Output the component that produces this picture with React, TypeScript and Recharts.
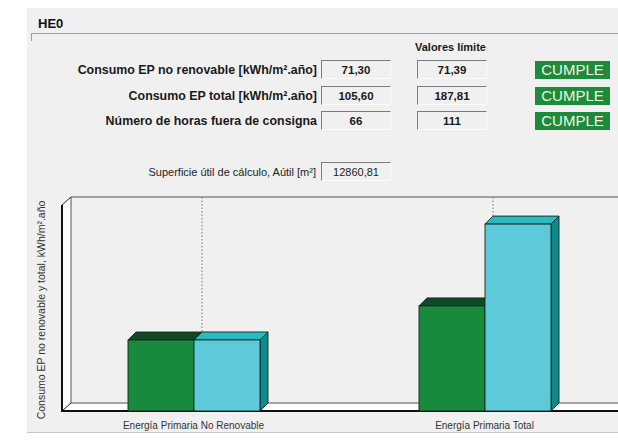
import React from "react";
import { Bar, BarChart, XAxis, YAxis } from "recharts";

// chart data
const categories = ["Energía Primaria No Renovable", "Energía Primaria Total"];
const consumo = [71.3, 105.6];
const limite = [71.39, 187.81];
const Y_MAX = 207;

// table above the chart
const rowLabels = [
  "Consumo EP no renovable [kWh/m².año]",
  "Consumo EP total [kWh/m².año]",
  "Número de horas fuera de consigna",
];
const rowValues = ["71,30", "105,60", "66"];
const rowLimits = ["71,39", "187,81", "111"];
const rowStatus = ["CUMPLE", "CUMPLE", "CUMPLE"];
const superficieLabel = "Superficie útil de cálculo, Aútil [m²]";
const superficieValue = "12860,81";
const yLabel = "Consumo EP no renovable y total, kWh/m².año";

const data = categories.map((name, i) => ({ name, consumo: consumo[i], limite: limite[i] }));

const FONT = '"Liberation Sans", Arial, sans-serif';
const BG = "#f0f0f0";
const DEPTH = 8;
const CHART_TOP = 180;
const PLOT_TOP = 205;
const PLOT_BOTTOM = 411;
const WALL_X = 62;

function Box3D(props: any) {
  const { x, y, width, height, front, top, side, grid, background } = props;
  if (width == null || height == null) return null;
  const d = DEPTH;
  const r = x + width;
  const b = y + height;
  const gTop = (background && background.y != null ? background.y : PLOT_TOP - CHART_TOP) - d;
  const gBot = b - d;
  const stroke = "#16261c";
  return (
    <g>
      {grid && (
        <line x1={r + d} x2={r + d} y1={gTop} y2={gBot} stroke="#777" strokeDasharray="1.5 2" strokeWidth={1} />
      )}
      <polygon points={`${x},${y} ${x + d},${y - d} ${r + d},${y - d} ${r},${y}`} fill={top} stroke={stroke} strokeWidth={0.9} />
      <polygon points={`${r},${y} ${r + d},${y - d} ${r + d},${b - d} ${r},${b}`} fill={side} stroke={stroke} strokeWidth={0.9} />
      <rect x={x} y={y} width={width} height={height} fill={front} stroke={stroke} strokeWidth={0.9} />
    </g>
  );
}

function Frame() {
  const backTop = PLOT_TOP - DEPTH;
  const backFloor = PLOT_BOTTOM - DEPTH;
  return (
    <svg width={618} height={440} style={{ position: "absolute", left: 0, top: 0 }}>
      <polygon points={`${WALL_X},${PLOT_TOP} ${WALL_X + 9},${backTop} ${WALL_X + 9},${backFloor} ${WALL_X},${PLOT_BOTTOM}`} fill="#fff" />
      <polygon points={`${WALL_X},${PLOT_BOTTOM} ${WALL_X + 9},${backFloor} 640,${backFloor} 640,${PLOT_BOTTOM}`} fill="#fff" />
      <line x1={WALL_X + 9} y1={backTop} x2={640} y2={backTop} stroke="#555" strokeWidth={1} />
      <line x1={WALL_X + 9} y1={backTop} x2={WALL_X + 9} y2={backFloor} stroke="#555" strokeWidth={1} />
      <line x1={WALL_X + 9} y1={backFloor} x2={640} y2={backFloor} stroke="#555" strokeWidth={1} />
      <line x1={WALL_X} y1={PLOT_TOP} x2={WALL_X + 9} y2={backTop} stroke="#222" strokeWidth={1} />
      <line x1={WALL_X} y1={PLOT_BOTTOM} x2={WALL_X + 9} y2={backFloor} stroke="#222" strokeWidth={1} />
      <line x1={WALL_X} y1={PLOT_TOP} x2={WALL_X} y2={PLOT_BOTTOM} stroke="#111" strokeWidth={2} />
      <line x1={WALL_X - 1} y1={PLOT_BOTTOM} x2={640} y2={PLOT_BOTTOM} stroke="#111" strokeWidth={2} />
      <text
        x={0}
        y={0}
        transform={`translate(41, 310) rotate(-90)`}
        textAnchor="middle"
        dominantBaseline="central"
        fontFamily={FONT}
        fontSize={10.5}
        fill="#333"
      >
        {yLabel}
      </text>
    </svg>
  );
}

const boxStyle: React.CSSProperties = {
  position: "absolute",
  width: 70,
  height: 19,
  borderTop: "1px solid #7c7c7c",
  borderLeft: "1px solid #7c7c7c",
  borderRight: "1px solid #fbfbfb",
  borderBottom: "1px solid #fbfbfb",
  textAlign: "center",
  lineHeight: "19px",
  fontWeight: "bold",
  fontSize: 11.5,
  color: "#1a1a1a",
  boxSizing: "border-box",
};

export default function App() {
  return (
    <div style={{ position: "fixed", left: 0, top: 0, width: 618, height: 440, overflow: "hidden", background: "#fff", fontFamily: FONT }}>
      <div style={{ position: "absolute", left: 27, top: 8, width: 591, height: 424, background: BG, borderBottom: "1px solid #c8c8c8" }} />
      <div style={{ position: "absolute", left: 38, top: 16, fontSize: 13, fontWeight: "bold", color: "#111" }}>HE0</div>
      <div style={{ position: "absolute", left: 31, top: 33, width: 587, height: 7, borderTop: "1px solid #a0a0a0", borderLeft: "1px solid #a0a0a0" }} />
      <div style={{ position: "absolute", left: 415, top: 41, fontSize: 11, fontWeight: "bold", color: "#1a1a1a" }}>Valores límite</div>
      {rowLabels.map((label, i) => {
        const top = Math.round(60 + i * 25.5);
        return (
          <React.Fragment key={label}>
            <div style={{ position: "absolute", left: 0, width: 317, top, height: 20, lineHeight: "20px", textAlign: "right", fontSize: 12.4, fontWeight: "bold", color: "#1a1a1a" }}>
              {label}
            </div>
            <div style={{ ...boxStyle, left: 321, top }}>{rowValues[i]}</div>
            <div style={{ ...boxStyle, left: 417, top }}>{rowLimits[i]}</div>
            <div style={{ position: "absolute", left: 535, top: top + 1, width: 75, height: 18, background: "#1e8b3c", color: "#eef6dc", fontSize: 15, lineHeight: "18px", textAlign: "center" }}>
              {rowStatus[i]}
            </div>
          </React.Fragment>
        );
      })}
      <div style={{ position: "absolute", left: 0, width: 316, top: 163, height: 18, lineHeight: "18px", textAlign: "right", fontSize: 11, color: "#222" }}>
        {superficieLabel}
      </div>
      <div style={{ ...boxStyle, left: 321, top: 162, fontWeight: "normal", fontSize: 11 }}>{superficieValue}</div>

      <Frame />
      <div style={{ position: "absolute", left: 0, top: CHART_TOP }}>
        <BarChart
          width={640}
          height={440 - CHART_TOP}
          data={data}
          margin={{ top: PLOT_TOP - CHART_TOP, right: 10, left: 48, bottom: 0 }}
          barGap={0}
          barSize={66}
        >
          <XAxis
            dataKey="name"
            height={440 - PLOT_BOTTOM}
            axisLine={false}
            tickLine={false}
            tickMargin={5}
            tick={{ fontSize: 10, fill: "#333", fontFamily: FONT }}
            interval={0}
          />
          <YAxis hide domain={[0, Y_MAX]} />
          <Bar
            dataKey="consumo"
            isAnimationActive={false}
            fill="#178a3e"
            shape={(p: any) => <Box3D {...p} front="#178a3e" top="#0f4a23" side="#0f5f2c" grid />}
          />
          <Bar
            dataKey="limite"
            isAnimationActive={false}
            fill="#5ccad9"
            shape={(p: any) => <Box3D {...p} front="#5ccad9" top="#2bb9c2" side="#0e8a8a" />}
          />
        </BarChart>
      </div>
    </div>
  );
}
